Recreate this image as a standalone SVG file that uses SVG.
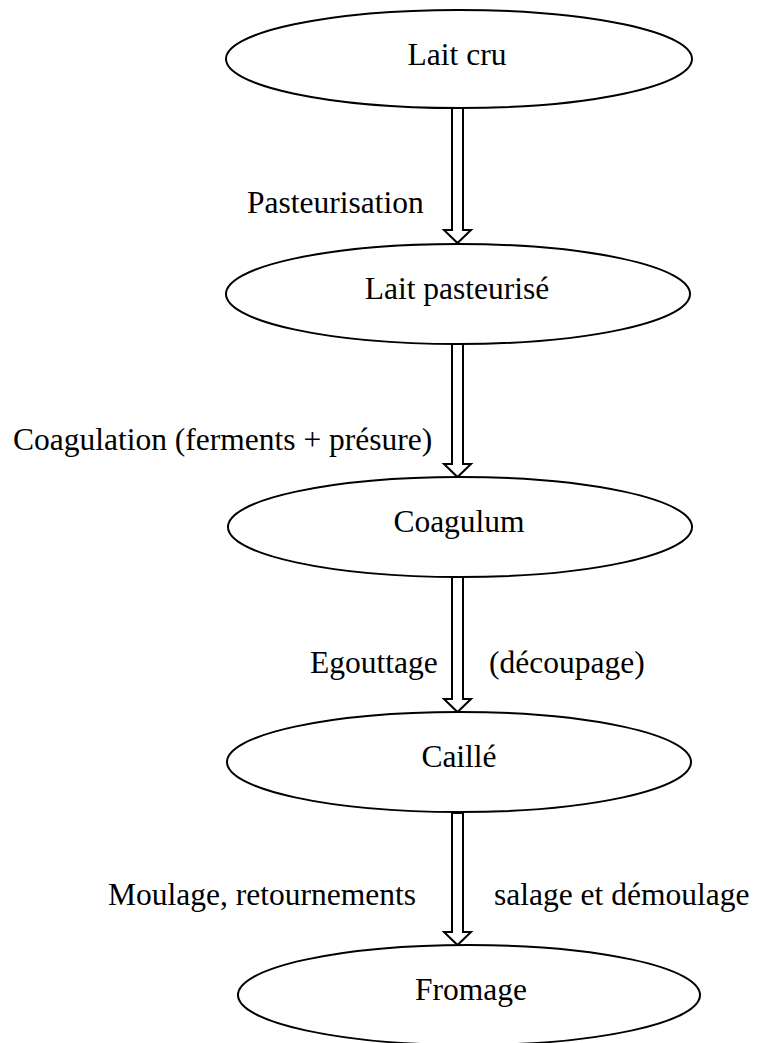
<svg xmlns="http://www.w3.org/2000/svg" width="758" height="1043" viewBox="0 0 758 1043">
  <style>
    .node { fill: #fff; stroke: #000; stroke-width: 2; }
    .arrow { fill: #fff; stroke: #000; stroke-width: 2; stroke-linejoin: miter; }
    text { font-family: "Liberation Serif", "Times New Roman", serif; font-size: 31.5px; fill: #000; }
    .c { text-anchor: middle; }
  </style>
  <rect width="758" height="1043" fill="#fff"/>

  <!-- hollow block arrows between the steps -->
  <g id="connectors">
    <path class="arrow" d="M452,108 V230 H444 L457.5,243 L471,230 H463 V108 Z"/>
    <path class="arrow" d="M452,344 V464 H444 L457.5,477 L471,464 H463 V344 Z"/>
    <path class="arrow" d="M452,577 V699 H444 L457.5,712 L471,699 H463 V577 Z"/>
    <path class="arrow" d="M452,813 V932 H444 L457.5,945 L471,932 H463 V813 Z"/>
  </g>

  <g id="lait-cru">
    <ellipse class="node" cx="459" cy="59" rx="233" ry="49"/>
    <text class="c" x="457" y="65">Lait cru</text>
  </g>

  <g id="lait-pasteurise">
    <ellipse class="node" cx="458" cy="294" rx="232" ry="50"/>
    <text class="c" x="457" y="299">Lait pasteurisé</text>
  </g>

  <g id="coagulum">
    <ellipse class="node" cx="460" cy="527" rx="232" ry="50"/>
    <text class="c" x="459" y="532">Coagulum</text>
  </g>

  <g id="caille">
    <ellipse class="node" cx="459" cy="762" rx="232" ry="50"/>
    <text class="c" x="459" y="767">Caillé</text>
  </g>

  <g id="fromage">
    <ellipse class="node" cx="469" cy="995" rx="231" ry="50"/>
    <text class="c" x="471" y="1000">Fromage</text>
  </g>

  <!-- step labels -->
  <g id="labels">
    <text x="247" y="213">Pasteurisation</text>
    <text x="13" y="450">Coagulation (ferments + présure)</text>
    <text x="310" y="673">Egouttage</text>
    <text x="489" y="673">(découpage)</text>
    <text x="108" y="905">Moulage, retournements</text>
    <text x="494" y="905">salage et démoulage</text>
  </g>
</svg>
